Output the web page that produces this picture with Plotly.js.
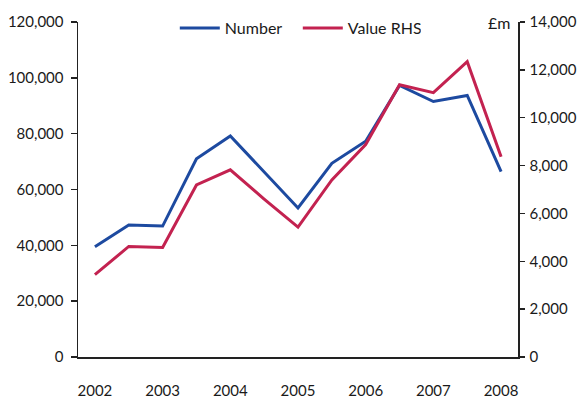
<!DOCTYPE html>
<html>
<head>
<meta charset="utf-8">
<script src="https://cdn.plot.ly/plotly-3.0.1.min.js"></script>
<style>html,body{margin:0;padding:0;background:#fff;}#chart{width:578px;height:400px;}</style>
</head>
<body>
<div id="chart"></div>
<script>
var periods = ["2002 H1","2002 H2","2003 H1","2003 H2","2004 H1","2004 H2","2005 H1","2005 H2","2006 H1","2006 H2","2007 H1","2007 H2","2008 H1"];
var yearLabels = ["2002","2003","2004","2005","2006","2007","2008"];
var number = [39500, 47300, 46900, 71000, 79200, 66300, 53400, 69400, 77300, 97300, 91500, 93700, 66400];
var valueRHS = [3440, 4620, 4580, 7190, 7820, 6600, 5430, 7400, 8880, 11380, 11050, 12340, 8370];

var idx = periods.map(function(_, i){ return i; });
var labelPos = yearLabels.map(function(_, i){ return i * 2; });
var boundaries = [];
for (var b = 0; b <= periods.length; b++) boundaries.push(b - 0.5);

var font = {family: "Lato, 'Open Sans', sans-serif", size: 16, color: "#1a1a1a"};
var tickFont = {family: "Lato, 'Open Sans', sans-serif", size: 15, color: "#1a1a1a"};

var traces = [
  {x: idx, y: number, name: "Number", type: "scatter", mode: "lines",
   line: {color: "#1d4aa0", width: 3}, xaxis: "x", yaxis: "y", hoverinfo: "skip"},
  {x: idx, y: valueRHS, name: "Value RHS", type: "scatter", mode: "lines",
   line: {color: "#c32250", width: 3}, xaxis: "x", yaxis: "y2", hoverinfo: "skip"}
];

var layout = {
  width: 578, height: 400,
  margin: {l: 78, r: 60, t: 22, b: 43, autoexpand: false},
  paper_bgcolor: "#fff", plot_bgcolor: "#fff",
  font: font,
  showlegend: true,
  legend: {orientation: "h", x: 0.22, y: 0.982, xanchor: "left", yanchor: "middle",
           font: font, itemwidth: 40, entrywidth: 68, bgcolor: "rgba(0,0,0,0)", tracegroupgap: 0},
  xaxis: {range: [-0.5, periods.length - 0.5], tickmode: "array", tickvals: labelPos, ticktext: yearLabels,
          ticks: "", showgrid: false, zeroline: false, showline: true, linecolor: "#222", linewidth: 1.5,
          ticklabelstandoff: 19, tickfont: tickFont, fixedrange: true},
  xaxis2: {overlaying: "x", anchor: "y", side: "bottom", range: [-0.5, periods.length - 0.5],
           tickmode: "array", tickvals: boundaries, ticks: "outside", ticklen: 7, tickcolor: "#222", tickwidth: 1.5,
           showticklabels: false, showgrid: false, zeroline: false, showline: false},
  yaxis: {range: [0, 120000], dtick: 20000, tickformat: ",", ticks: "outside", ticklen: 6,
          tickcolor: "#222", tickwidth: 1.5, showgrid: false, zeroline: false, showline: true,
          linecolor: "#222", linewidth: 1.5, ticklabelstandoff: 4, tickfont: tickFont},
  yaxis2: {overlaying: "y", side: "right", anchor: "x", range: [0, 14000], dtick: 2000, tickformat: ",",
           ticks: "outside", ticklen: 5, tickcolor: "#222", tickwidth: 1.5, showgrid: false, zeroline: false,
           showline: true, linecolor: "#222", linewidth: 1.5, ticklabelstandoff: 2, tickfont: tickFont},
  annotations: [{text: "£m", xref: "paper", yref: "paper", x: 1, y: 1, xanchor: "right", yanchor: "middle",
                 xshift: -6, showarrow: false, font: font}]
};

Plotly.newPlot("chart", traces, layout, {displayModeBar: false, staticPlot: true});
</script>
</body>
</html>
